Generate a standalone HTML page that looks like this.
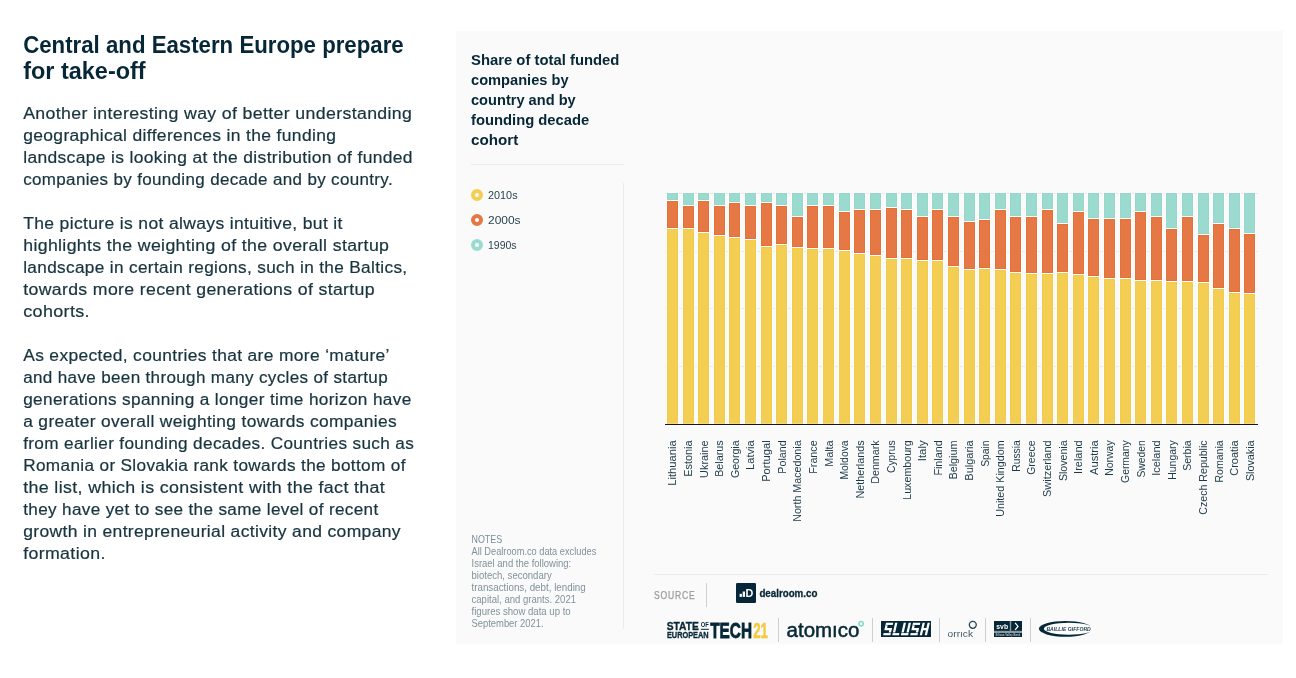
<!DOCTYPE html>
<html><head><meta charset="utf-8"><title>Central and Eastern Europe prepare for take-off</title>
<style>html,body{margin:0;padding:0;background:#fff;}body{width:1296px;height:678px;overflow:hidden;}svg{display:block;will-change:transform;}text{font-family:"Liberation Sans",sans-serif;}</style>
</head><body>
<svg width="1296" height="678" viewBox="0 0 1296 678">
<rect width="1296" height="678" fill="#ffffff"/>
<text x="23.2" y="52.7" font-size="24.7" fill="#062737" font-weight="bold" textLength="380.5" lengthAdjust="spacingAndGlyphs" >Central and Eastern Europe prepare</text>
<text x="23.2" y="78.6" font-size="24.7" fill="#062737" font-weight="bold" textLength="122.5" lengthAdjust="spacingAndGlyphs" >for take-off</text>
<text x="23.2" y="119.0" font-size="17.3" fill="#17343f" textLength="389.1" lengthAdjust="spacingAndGlyphs" letter-spacing="0.35" stroke="#17343f" stroke-width="0.22">Another interesting way of better understanding</text>
<text x="23.2" y="141.0" font-size="17.3" fill="#17343f" textLength="313.1" lengthAdjust="spacingAndGlyphs" letter-spacing="0.35" stroke="#17343f" stroke-width="0.22">geographical differences in the funding</text>
<text x="23.2" y="163.0" font-size="17.3" fill="#17343f" textLength="389.7" lengthAdjust="spacingAndGlyphs" letter-spacing="0.35" stroke="#17343f" stroke-width="0.22">landscape is looking at the distribution of funded</text>
<text x="23.2" y="185.0" font-size="17.3" fill="#17343f" textLength="369.8" lengthAdjust="spacingAndGlyphs" letter-spacing="0.35" stroke="#17343f" stroke-width="0.22">companies by founding decade and by country.</text>
<text x="23.2" y="229.0" font-size="17.3" fill="#17343f" textLength="319.6" lengthAdjust="spacingAndGlyphs" letter-spacing="0.35" stroke="#17343f" stroke-width="0.22">The picture is not always intuitive, but it</text>
<text x="23.2" y="251.0" font-size="17.3" fill="#17343f" textLength="366.1" lengthAdjust="spacingAndGlyphs" letter-spacing="0.35" stroke="#17343f" stroke-width="0.22">highlights the weighting of the overall startup</text>
<text x="23.2" y="273.0" font-size="17.3" fill="#17343f" textLength="384.3" lengthAdjust="spacingAndGlyphs" letter-spacing="0.35" stroke="#17343f" stroke-width="0.22">landscape in certain regions, such in the Baltics,</text>
<text x="23.2" y="295.0" font-size="17.3" fill="#17343f" textLength="351.8" lengthAdjust="spacingAndGlyphs" letter-spacing="0.35" stroke="#17343f" stroke-width="0.22">towards more recent generations of startup</text>
<text x="23.2" y="317.0" font-size="17.3" fill="#17343f" textLength="66.8" lengthAdjust="spacingAndGlyphs" letter-spacing="0.35" stroke="#17343f" stroke-width="0.22">cohorts.</text>
<text x="23.2" y="361.0" font-size="17.3" fill="#17343f" textLength="366.6" lengthAdjust="spacingAndGlyphs" letter-spacing="0.35" stroke="#17343f" stroke-width="0.22">As expected, countries that are more ‘mature’</text>
<text x="23.2" y="383.0" font-size="17.3" fill="#17343f" textLength="364.8" lengthAdjust="spacingAndGlyphs" letter-spacing="0.35" stroke="#17343f" stroke-width="0.22">and have been through many cycles of startup</text>
<text x="23.2" y="405.0" font-size="17.3" fill="#17343f" textLength="388.4" lengthAdjust="spacingAndGlyphs" letter-spacing="0.35" stroke="#17343f" stroke-width="0.22">generations spanning a longer time horizon have</text>
<text x="23.2" y="427.0" font-size="17.3" fill="#17343f" textLength="373.9" lengthAdjust="spacingAndGlyphs" letter-spacing="0.35" stroke="#17343f" stroke-width="0.22">a greater overall weighting towards companies</text>
<text x="23.2" y="449.0" font-size="17.3" fill="#17343f" textLength="390.9" lengthAdjust="spacingAndGlyphs" letter-spacing="0.35" stroke="#17343f" stroke-width="0.22">from earlier founding decades. Countries such as</text>
<text x="23.2" y="471.0" font-size="17.3" fill="#17343f" textLength="382.6" lengthAdjust="spacingAndGlyphs" letter-spacing="0.35" stroke="#17343f" stroke-width="0.22">Romania or Slovakia rank towards the bottom of</text>
<text x="23.2" y="493.0" font-size="17.3" fill="#17343f" textLength="362.0" lengthAdjust="spacingAndGlyphs" letter-spacing="0.35" stroke="#17343f" stroke-width="0.22">the list, which is consistent with the fact that</text>
<text x="23.2" y="515.0" font-size="17.3" fill="#17343f" textLength="355.4" lengthAdjust="spacingAndGlyphs" letter-spacing="0.35" stroke="#17343f" stroke-width="0.22">they have yet to see the same level of recent</text>
<text x="23.2" y="537.0" font-size="17.3" fill="#17343f" textLength="377.7" lengthAdjust="spacingAndGlyphs" letter-spacing="0.35" stroke="#17343f" stroke-width="0.22">growth in entrepreneurial activity and company</text>
<text x="23.2" y="559.0" font-size="17.3" fill="#17343f" textLength="82.5" lengthAdjust="spacingAndGlyphs" letter-spacing="0.35" stroke="#17343f" stroke-width="0.22">formation.</text>
<rect x="456" y="31" width="827" height="613" fill="#fafafa"/>
<text x="471" y="65.2" font-size="15.5" fill="#062737" font-weight="bold" textLength="148.4" lengthAdjust="spacingAndGlyphs" >Share of total funded</text>
<text x="471" y="85.2" font-size="15.5" fill="#062737" font-weight="bold" textLength="97.6" lengthAdjust="spacingAndGlyphs" >companies by</text>
<text x="471" y="105.3" font-size="15.5" fill="#062737" font-weight="bold" textLength="104.7" lengthAdjust="spacingAndGlyphs" >country and by</text>
<text x="471" y="125.4" font-size="15.5" fill="#062737" font-weight="bold" textLength="118.3" lengthAdjust="spacingAndGlyphs" >founding decade</text>
<text x="471" y="145.4" font-size="15.5" fill="#062737" font-weight="bold" textLength="47.3" lengthAdjust="spacingAndGlyphs" >cohort</text>
<rect x="471" y="164" width="153" height="1" fill="#ececec"/>
<rect x="623" y="183" width="1" height="446" fill="#ececec"/>
<circle cx="477" cy="195" r="4" fill="#ffffff" stroke="#f4ce52" stroke-width="4"/>
<text x="488" y="199" font-size="11.2" fill="#2a444f" textLength="29.6" lengthAdjust="spacingAndGlyphs" >2010s</text>
<circle cx="477" cy="220" r="4" fill="#ffffff" stroke="#e57844" stroke-width="4"/>
<text x="488" y="224" font-size="11.2" fill="#2a444f" textLength="32.6" lengthAdjust="spacingAndGlyphs" >2000s</text>
<circle cx="477" cy="245" r="4" fill="#ffffff" stroke="#9bdacf" stroke-width="4"/>
<text x="488" y="249" font-size="11.2" fill="#2a444f" textLength="28.6" lengthAdjust="spacingAndGlyphs" >1990s</text>
<text x="471.5" y="542.8" font-size="10.6" fill="#7a8f98" textLength="30.6" lengthAdjust="spacingAndGlyphs" >NOTES</text>
<text x="471.5" y="554.7" font-size="10.3" fill="#7f929b" textLength="124.8" lengthAdjust="spacingAndGlyphs" >All Dealroom.co data excludes</text>
<text x="471.5" y="566.7" font-size="10.3" fill="#7f929b" textLength="99.69999999999999" lengthAdjust="spacingAndGlyphs" >Israel and the following:</text>
<text x="471.5" y="578.7" font-size="10.3" fill="#7f929b" textLength="80.19999999999999" lengthAdjust="spacingAndGlyphs" >biotech, secondary</text>
<text x="471.5" y="590.7" font-size="10.3" fill="#7f929b" textLength="114.19999999999999" lengthAdjust="spacingAndGlyphs" >transactions, debt, lending</text>
<text x="471.5" y="602.7" font-size="10.3" fill="#7f929b" textLength="104.5" lengthAdjust="spacingAndGlyphs" >capital, and grants. 2021</text>
<text x="471.5" y="614.7" font-size="10.3" fill="#7f929b" textLength="99.19999999999999" lengthAdjust="spacingAndGlyphs" >figures show data up to</text>
<text x="471.5" y="626.7" font-size="10.3" fill="#7f929b" textLength="72.1" lengthAdjust="spacingAndGlyphs" >September 2021.</text>
<rect x="665" y="193" width="593" height="1" fill="#e9e9e9"/>
<rect x="665" y="251" width="593" height="1" fill="#e9e9e9"/>
<rect x="665" y="308" width="593" height="1" fill="#e9e9e9"/>
<rect x="665" y="366" width="593" height="1" fill="#e9e9e9"/>
<rect x="665" y="424" width="593" height="1" fill="#e9e9e9"/>
<g shape-rendering="crispEdges">
<rect x="666" y="192" width="13" height="232" fill="#ffffff"/>
<rect x="667" y="193" width="11" height="7" fill="#94d8cc"/><rect x="668" y="194" width="9" height="5" fill="#9bdacf"/>
<rect x="667" y="201" width="11" height="27" fill="#e37139"/><rect x="668" y="202" width="9" height="25" fill="#e57844"/>
<rect x="667" y="229" width="11" height="195" fill="#f3cc47"/><rect x="668" y="230" width="9" height="193" fill="#f4ce52"/>
<rect x="682" y="192" width="13" height="232" fill="#ffffff"/>
<rect x="683" y="193" width="11" height="12" fill="#94d8cc"/><rect x="684" y="194" width="9" height="10" fill="#9bdacf"/>
<rect x="683" y="206" width="11" height="22" fill="#e37139"/><rect x="684" y="207" width="9" height="20" fill="#e57844"/>
<rect x="683" y="229" width="11" height="195" fill="#f3cc47"/><rect x="684" y="230" width="9" height="193" fill="#f4ce52"/>
<rect x="697" y="192" width="13" height="232" fill="#ffffff"/>
<rect x="698" y="193" width="11" height="7" fill="#94d8cc"/><rect x="699" y="194" width="9" height="5" fill="#9bdacf"/>
<rect x="698" y="201" width="11" height="31" fill="#e37139"/><rect x="699" y="202" width="9" height="29" fill="#e57844"/>
<rect x="698" y="233" width="11" height="191" fill="#f3cc47"/><rect x="699" y="234" width="9" height="189" fill="#f4ce52"/>
<rect x="713" y="192" width="13" height="232" fill="#ffffff"/>
<rect x="714" y="193" width="11" height="12" fill="#94d8cc"/><rect x="715" y="194" width="9" height="10" fill="#9bdacf"/>
<rect x="714" y="206" width="11" height="29" fill="#e37139"/><rect x="715" y="207" width="9" height="27" fill="#e57844"/>
<rect x="714" y="236" width="11" height="188" fill="#f3cc47"/><rect x="715" y="237" width="9" height="186" fill="#f4ce52"/>
<rect x="728" y="192" width="13" height="232" fill="#ffffff"/>
<rect x="729" y="193" width="11" height="9" fill="#94d8cc"/><rect x="730" y="194" width="9" height="7" fill="#9bdacf"/>
<rect x="729" y="203" width="11" height="34" fill="#e37139"/><rect x="730" y="204" width="9" height="32" fill="#e57844"/>
<rect x="729" y="238" width="11" height="186" fill="#f3cc47"/><rect x="730" y="239" width="9" height="184" fill="#f4ce52"/>
<rect x="744" y="192" width="13" height="232" fill="#ffffff"/>
<rect x="745" y="193" width="11" height="12" fill="#94d8cc"/><rect x="746" y="194" width="9" height="10" fill="#9bdacf"/>
<rect x="745" y="206" width="11" height="33" fill="#e37139"/><rect x="746" y="207" width="9" height="31" fill="#e57844"/>
<rect x="745" y="240" width="11" height="184" fill="#f3cc47"/><rect x="746" y="241" width="9" height="182" fill="#f4ce52"/>
<rect x="760" y="192" width="13" height="232" fill="#ffffff"/>
<rect x="761" y="193" width="11" height="9" fill="#94d8cc"/><rect x="762" y="194" width="9" height="7" fill="#9bdacf"/>
<rect x="761" y="203" width="11" height="43" fill="#e37139"/><rect x="762" y="204" width="9" height="41" fill="#e57844"/>
<rect x="761" y="247" width="11" height="177" fill="#f3cc47"/><rect x="762" y="248" width="9" height="175" fill="#f4ce52"/>
<rect x="775" y="192" width="13" height="232" fill="#ffffff"/>
<rect x="776" y="193" width="11" height="12" fill="#94d8cc"/><rect x="777" y="194" width="9" height="10" fill="#9bdacf"/>
<rect x="776" y="206" width="11" height="38" fill="#e37139"/><rect x="777" y="207" width="9" height="36" fill="#e57844"/>
<rect x="776" y="245" width="11" height="179" fill="#f3cc47"/><rect x="777" y="246" width="9" height="177" fill="#f4ce52"/>
<rect x="791" y="192" width="13" height="232" fill="#ffffff"/>
<rect x="792" y="193" width="11" height="23" fill="#94d8cc"/><rect x="793" y="194" width="9" height="21" fill="#9bdacf"/>
<rect x="792" y="217" width="11" height="30" fill="#e37139"/><rect x="793" y="218" width="9" height="28" fill="#e57844"/>
<rect x="792" y="248" width="11" height="176" fill="#f3cc47"/><rect x="793" y="249" width="9" height="174" fill="#f4ce52"/>
<rect x="806" y="192" width="13" height="232" fill="#ffffff"/>
<rect x="807" y="193" width="11" height="12" fill="#94d8cc"/><rect x="808" y="194" width="9" height="10" fill="#9bdacf"/>
<rect x="807" y="206" width="11" height="42" fill="#e37139"/><rect x="808" y="207" width="9" height="40" fill="#e57844"/>
<rect x="807" y="249" width="11" height="175" fill="#f3cc47"/><rect x="808" y="250" width="9" height="173" fill="#f4ce52"/>
<rect x="822" y="192" width="13" height="232" fill="#ffffff"/>
<rect x="823" y="193" width="11" height="12" fill="#94d8cc"/><rect x="824" y="194" width="9" height="10" fill="#9bdacf"/>
<rect x="823" y="206" width="11" height="42" fill="#e37139"/><rect x="824" y="207" width="9" height="40" fill="#e57844"/>
<rect x="823" y="249" width="11" height="175" fill="#f3cc47"/><rect x="824" y="250" width="9" height="173" fill="#f4ce52"/>
<rect x="838" y="192" width="13" height="232" fill="#ffffff"/>
<rect x="839" y="193" width="11" height="18" fill="#94d8cc"/><rect x="840" y="194" width="9" height="16" fill="#9bdacf"/>
<rect x="839" y="212" width="11" height="38" fill="#e37139"/><rect x="840" y="213" width="9" height="36" fill="#e57844"/>
<rect x="839" y="251" width="11" height="173" fill="#f3cc47"/><rect x="840" y="252" width="9" height="171" fill="#f4ce52"/>
<rect x="853" y="192" width="13" height="232" fill="#ffffff"/>
<rect x="854" y="193" width="11" height="16" fill="#94d8cc"/><rect x="855" y="194" width="9" height="14" fill="#9bdacf"/>
<rect x="854" y="210" width="11" height="43" fill="#e37139"/><rect x="855" y="211" width="9" height="41" fill="#e57844"/>
<rect x="854" y="254" width="11" height="170" fill="#f3cc47"/><rect x="855" y="255" width="9" height="168" fill="#f4ce52"/>
<rect x="869" y="192" width="13" height="232" fill="#ffffff"/>
<rect x="870" y="193" width="11" height="16" fill="#94d8cc"/><rect x="871" y="194" width="9" height="14" fill="#9bdacf"/>
<rect x="870" y="210" width="11" height="45" fill="#e37139"/><rect x="871" y="211" width="9" height="43" fill="#e57844"/>
<rect x="870" y="256" width="11" height="168" fill="#f3cc47"/><rect x="871" y="257" width="9" height="166" fill="#f4ce52"/>
<rect x="885" y="192" width="13" height="232" fill="#ffffff"/>
<rect x="886" y="193" width="11" height="14" fill="#94d8cc"/><rect x="887" y="194" width="9" height="12" fill="#9bdacf"/>
<rect x="886" y="208" width="11" height="50" fill="#e37139"/><rect x="887" y="209" width="9" height="48" fill="#e57844"/>
<rect x="886" y="259" width="11" height="165" fill="#f3cc47"/><rect x="887" y="260" width="9" height="163" fill="#f4ce52"/>
<rect x="900" y="192" width="13" height="232" fill="#ffffff"/>
<rect x="901" y="193" width="11" height="16" fill="#94d8cc"/><rect x="902" y="194" width="9" height="14" fill="#9bdacf"/>
<rect x="901" y="210" width="11" height="48" fill="#e37139"/><rect x="902" y="211" width="9" height="46" fill="#e57844"/>
<rect x="901" y="259" width="11" height="165" fill="#f3cc47"/><rect x="902" y="260" width="9" height="163" fill="#f4ce52"/>
<rect x="916" y="192" width="13" height="232" fill="#ffffff"/>
<rect x="917" y="193" width="11" height="23" fill="#94d8cc"/><rect x="918" y="194" width="9" height="21" fill="#9bdacf"/>
<rect x="917" y="217" width="11" height="43" fill="#e37139"/><rect x="918" y="218" width="9" height="41" fill="#e57844"/>
<rect x="917" y="261" width="11" height="163" fill="#f3cc47"/><rect x="918" y="262" width="9" height="161" fill="#f4ce52"/>
<rect x="931" y="192" width="13" height="232" fill="#ffffff"/>
<rect x="932" y="193" width="11" height="16" fill="#94d8cc"/><rect x="933" y="194" width="9" height="14" fill="#9bdacf"/>
<rect x="932" y="210" width="11" height="50" fill="#e37139"/><rect x="933" y="211" width="9" height="48" fill="#e57844"/>
<rect x="932" y="261" width="11" height="163" fill="#f3cc47"/><rect x="933" y="262" width="9" height="161" fill="#f4ce52"/>
<rect x="947" y="192" width="13" height="232" fill="#ffffff"/>
<rect x="948" y="193" width="11" height="23" fill="#94d8cc"/><rect x="949" y="194" width="9" height="21" fill="#9bdacf"/>
<rect x="948" y="217" width="11" height="49" fill="#e37139"/><rect x="949" y="218" width="9" height="47" fill="#e57844"/>
<rect x="948" y="267" width="11" height="157" fill="#f3cc47"/><rect x="949" y="268" width="9" height="155" fill="#f4ce52"/>
<rect x="963" y="192" width="13" height="232" fill="#ffffff"/>
<rect x="964" y="193" width="11" height="28" fill="#94d8cc"/><rect x="965" y="194" width="9" height="26" fill="#9bdacf"/>
<rect x="964" y="222" width="11" height="47" fill="#e37139"/><rect x="965" y="223" width="9" height="45" fill="#e57844"/>
<rect x="964" y="270" width="11" height="154" fill="#f3cc47"/><rect x="965" y="271" width="9" height="152" fill="#f4ce52"/>
<rect x="978" y="192" width="13" height="232" fill="#ffffff"/>
<rect x="979" y="193" width="11" height="26" fill="#94d8cc"/><rect x="980" y="194" width="9" height="24" fill="#9bdacf"/>
<rect x="979" y="220" width="11" height="48" fill="#e37139"/><rect x="980" y="221" width="9" height="46" fill="#e57844"/>
<rect x="979" y="269" width="11" height="155" fill="#f3cc47"/><rect x="980" y="270" width="9" height="153" fill="#f4ce52"/>
<rect x="994" y="192" width="13" height="232" fill="#ffffff"/>
<rect x="995" y="193" width="11" height="16" fill="#94d8cc"/><rect x="996" y="194" width="9" height="14" fill="#9bdacf"/>
<rect x="995" y="210" width="11" height="59" fill="#e37139"/><rect x="996" y="211" width="9" height="57" fill="#e57844"/>
<rect x="995" y="270" width="11" height="154" fill="#f3cc47"/><rect x="996" y="271" width="9" height="152" fill="#f4ce52"/>
<rect x="1009" y="192" width="13" height="232" fill="#ffffff"/>
<rect x="1010" y="193" width="11" height="23" fill="#94d8cc"/><rect x="1011" y="194" width="9" height="21" fill="#9bdacf"/>
<rect x="1010" y="217" width="11" height="55" fill="#e37139"/><rect x="1011" y="218" width="9" height="53" fill="#e57844"/>
<rect x="1010" y="273" width="11" height="151" fill="#f3cc47"/><rect x="1011" y="274" width="9" height="149" fill="#f4ce52"/>
<rect x="1025" y="192" width="13" height="232" fill="#ffffff"/>
<rect x="1026" y="193" width="11" height="23" fill="#94d8cc"/><rect x="1027" y="194" width="9" height="21" fill="#9bdacf"/>
<rect x="1026" y="217" width="11" height="56" fill="#e37139"/><rect x="1027" y="218" width="9" height="54" fill="#e57844"/>
<rect x="1026" y="274" width="11" height="150" fill="#f3cc47"/><rect x="1027" y="275" width="9" height="148" fill="#f4ce52"/>
<rect x="1041" y="192" width="13" height="232" fill="#ffffff"/>
<rect x="1042" y="193" width="11" height="16" fill="#94d8cc"/><rect x="1043" y="194" width="9" height="14" fill="#9bdacf"/>
<rect x="1042" y="210" width="11" height="63" fill="#e37139"/><rect x="1043" y="211" width="9" height="61" fill="#e57844"/>
<rect x="1042" y="274" width="11" height="150" fill="#f3cc47"/><rect x="1043" y="275" width="9" height="148" fill="#f4ce52"/>
<rect x="1056" y="192" width="13" height="232" fill="#ffffff"/>
<rect x="1057" y="193" width="11" height="30" fill="#94d8cc"/><rect x="1058" y="194" width="9" height="28" fill="#9bdacf"/>
<rect x="1057" y="224" width="11" height="48" fill="#e37139"/><rect x="1058" y="225" width="9" height="46" fill="#e57844"/>
<rect x="1057" y="273" width="11" height="151" fill="#f3cc47"/><rect x="1058" y="274" width="9" height="149" fill="#f4ce52"/>
<rect x="1072" y="192" width="13" height="232" fill="#ffffff"/>
<rect x="1073" y="193" width="11" height="18" fill="#94d8cc"/><rect x="1074" y="194" width="9" height="16" fill="#9bdacf"/>
<rect x="1073" y="212" width="11" height="62" fill="#e37139"/><rect x="1074" y="213" width="9" height="60" fill="#e57844"/>
<rect x="1073" y="275" width="11" height="149" fill="#f3cc47"/><rect x="1074" y="276" width="9" height="147" fill="#f4ce52"/>
<rect x="1087" y="192" width="13" height="232" fill="#ffffff"/>
<rect x="1088" y="193" width="11" height="25" fill="#94d8cc"/><rect x="1089" y="194" width="9" height="23" fill="#9bdacf"/>
<rect x="1088" y="219" width="11" height="57" fill="#e37139"/><rect x="1089" y="220" width="9" height="55" fill="#e57844"/>
<rect x="1088" y="277" width="11" height="147" fill="#f3cc47"/><rect x="1089" y="278" width="9" height="145" fill="#f4ce52"/>
<rect x="1103" y="192" width="13" height="232" fill="#ffffff"/>
<rect x="1104" y="193" width="11" height="25" fill="#94d8cc"/><rect x="1105" y="194" width="9" height="23" fill="#9bdacf"/>
<rect x="1104" y="219" width="11" height="59" fill="#e37139"/><rect x="1105" y="220" width="9" height="57" fill="#e57844"/>
<rect x="1104" y="279" width="11" height="145" fill="#f3cc47"/><rect x="1105" y="280" width="9" height="143" fill="#f4ce52"/>
<rect x="1119" y="192" width="13" height="232" fill="#ffffff"/>
<rect x="1120" y="193" width="11" height="25" fill="#94d8cc"/><rect x="1121" y="194" width="9" height="23" fill="#9bdacf"/>
<rect x="1120" y="219" width="11" height="59" fill="#e37139"/><rect x="1121" y="220" width="9" height="57" fill="#e57844"/>
<rect x="1120" y="279" width="11" height="145" fill="#f3cc47"/><rect x="1121" y="280" width="9" height="143" fill="#f4ce52"/>
<rect x="1134" y="192" width="13" height="232" fill="#ffffff"/>
<rect x="1135" y="193" width="11" height="18" fill="#94d8cc"/><rect x="1136" y="194" width="9" height="16" fill="#9bdacf"/>
<rect x="1135" y="212" width="11" height="68" fill="#e37139"/><rect x="1136" y="213" width="9" height="66" fill="#e57844"/>
<rect x="1135" y="281" width="11" height="143" fill="#f3cc47"/><rect x="1136" y="282" width="9" height="141" fill="#f4ce52"/>
<rect x="1150" y="192" width="13" height="232" fill="#ffffff"/>
<rect x="1151" y="193" width="11" height="23" fill="#94d8cc"/><rect x="1152" y="194" width="9" height="21" fill="#9bdacf"/>
<rect x="1151" y="217" width="11" height="63" fill="#e37139"/><rect x="1152" y="218" width="9" height="61" fill="#e57844"/>
<rect x="1151" y="281" width="11" height="143" fill="#f3cc47"/><rect x="1152" y="282" width="9" height="141" fill="#f4ce52"/>
<rect x="1165" y="192" width="13" height="232" fill="#ffffff"/>
<rect x="1166" y="193" width="11" height="35" fill="#94d8cc"/><rect x="1167" y="194" width="9" height="33" fill="#9bdacf"/>
<rect x="1166" y="229" width="11" height="52" fill="#e37139"/><rect x="1167" y="230" width="9" height="50" fill="#e57844"/>
<rect x="1166" y="282" width="11" height="142" fill="#f3cc47"/><rect x="1167" y="283" width="9" height="140" fill="#f4ce52"/>
<rect x="1181" y="192" width="13" height="232" fill="#ffffff"/>
<rect x="1182" y="193" width="11" height="23" fill="#94d8cc"/><rect x="1183" y="194" width="9" height="21" fill="#9bdacf"/>
<rect x="1182" y="217" width="11" height="64" fill="#e37139"/><rect x="1183" y="218" width="9" height="62" fill="#e57844"/>
<rect x="1182" y="282" width="11" height="142" fill="#f3cc47"/><rect x="1183" y="283" width="9" height="140" fill="#f4ce52"/>
<rect x="1197" y="192" width="13" height="232" fill="#ffffff"/>
<rect x="1198" y="193" width="11" height="41" fill="#94d8cc"/><rect x="1199" y="194" width="9" height="39" fill="#9bdacf"/>
<rect x="1198" y="235" width="11" height="47" fill="#e37139"/><rect x="1199" y="236" width="9" height="45" fill="#e57844"/>
<rect x="1198" y="283" width="11" height="141" fill="#f3cc47"/><rect x="1199" y="284" width="9" height="139" fill="#f4ce52"/>
<rect x="1212" y="192" width="13" height="232" fill="#ffffff"/>
<rect x="1213" y="193" width="11" height="30" fill="#94d8cc"/><rect x="1214" y="194" width="9" height="28" fill="#9bdacf"/>
<rect x="1213" y="224" width="11" height="64" fill="#e37139"/><rect x="1214" y="225" width="9" height="62" fill="#e57844"/>
<rect x="1213" y="289" width="11" height="135" fill="#f3cc47"/><rect x="1214" y="290" width="9" height="133" fill="#f4ce52"/>
<rect x="1228" y="192" width="13" height="232" fill="#ffffff"/>
<rect x="1229" y="193" width="11" height="35" fill="#94d8cc"/><rect x="1230" y="194" width="9" height="33" fill="#9bdacf"/>
<rect x="1229" y="229" width="11" height="63" fill="#e37139"/><rect x="1230" y="230" width="9" height="61" fill="#e57844"/>
<rect x="1229" y="293" width="11" height="131" fill="#f3cc47"/><rect x="1230" y="294" width="9" height="129" fill="#f4ce52"/>
<rect x="1243" y="192" width="13" height="232" fill="#ffffff"/>
<rect x="1244" y="193" width="11" height="40" fill="#94d8cc"/><rect x="1245" y="194" width="9" height="38" fill="#9bdacf"/>
<rect x="1244" y="234" width="11" height="59" fill="#e37139"/><rect x="1245" y="235" width="9" height="57" fill="#e57844"/>
<rect x="1244" y="294" width="11" height="130" fill="#f3cc47"/><rect x="1245" y="295" width="9" height="128" fill="#f4ce52"/>
<rect x="664" y="423" width="595" height="1" fill="#ffffff" fill-opacity="0.3"/><rect x="664" y="425" width="595" height="1" fill="#ffffff"/><rect x="664" y="424" width="1" height="1" fill="#ffffff"/><rect x="665" y="424" width="593" height="1" fill="#16161c"/>
</g>
<text transform="translate(676.2,440.4) rotate(-90)" text-anchor="end" font-size="11" fill="#1c3947" textLength="45.4" lengthAdjust="spacingAndGlyphs">Lithuania</text>
<text transform="translate(692.2,440.4) rotate(-90)" text-anchor="end" font-size="11" fill="#1c3947" textLength="36.4" lengthAdjust="spacingAndGlyphs">Estonia</text>
<text transform="translate(708.2,440.4) rotate(-90)" text-anchor="end" font-size="11" fill="#1c3947" textLength="37.5" lengthAdjust="spacingAndGlyphs">Ukraine</text>
<text transform="translate(723.2,440.4) rotate(-90)" text-anchor="end" font-size="11" fill="#1c3947" textLength="36.4" lengthAdjust="spacingAndGlyphs">Belarus</text>
<text transform="translate(739.2,440.4) rotate(-90)" text-anchor="end" font-size="11" fill="#1c3947" textLength="37.699999999999996" lengthAdjust="spacingAndGlyphs">Georgia</text>
<text transform="translate(754.2,440.4) rotate(-90)" text-anchor="end" font-size="11" fill="#1c3947" textLength="29.5" lengthAdjust="spacingAndGlyphs">Latvia</text>
<text transform="translate(770.2,440.4) rotate(-90)" text-anchor="end" font-size="11" fill="#1c3947" textLength="41.4" lengthAdjust="spacingAndGlyphs">Portugal</text>
<text transform="translate(786.2,440.4) rotate(-90)" text-anchor="end" font-size="11" fill="#1c3947" textLength="33.3" lengthAdjust="spacingAndGlyphs">Poland</text>
<text transform="translate(801.2,440.4) rotate(-90)" text-anchor="end" font-size="11" fill="#1c3947" textLength="81.39999999999999" lengthAdjust="spacingAndGlyphs">North Macedonia</text>
<text transform="translate(817.2,440.4) rotate(-90)" text-anchor="end" font-size="11" fill="#1c3947" textLength="33.3" lengthAdjust="spacingAndGlyphs">France</text>
<text transform="translate(833.2,440.4) rotate(-90)" text-anchor="end" font-size="11" fill="#1c3947" textLength="26.400000000000002" lengthAdjust="spacingAndGlyphs">Malta</text>
<text transform="translate(848.2,440.4) rotate(-90)" text-anchor="end" font-size="11" fill="#1c3947" textLength="39.199999999999996" lengthAdjust="spacingAndGlyphs">Moldova</text>
<text transform="translate(864.2,440.4) rotate(-90)" text-anchor="end" font-size="11" fill="#1c3947" textLength="58.099999999999994" lengthAdjust="spacingAndGlyphs">Netherlands</text>
<text transform="translate(879.2,440.4) rotate(-90)" text-anchor="end" font-size="11" fill="#1c3947" textLength="43.4" lengthAdjust="spacingAndGlyphs">Denmark</text>
<text transform="translate(895.2,440.4) rotate(-90)" text-anchor="end" font-size="11" fill="#1c3947" textLength="32.6" lengthAdjust="spacingAndGlyphs">Cyprus</text>
<text transform="translate(911.2,440.4) rotate(-90)" text-anchor="end" font-size="11" fill="#1c3947" textLength="59.4" lengthAdjust="spacingAndGlyphs">Luxembourg</text>
<text transform="translate(926.2,440.4) rotate(-90)" text-anchor="end" font-size="11" fill="#1c3947" textLength="20.8" lengthAdjust="spacingAndGlyphs">Italy</text>
<text transform="translate(942.2,440.4) rotate(-90)" text-anchor="end" font-size="11" fill="#1c3947" textLength="35.199999999999996" lengthAdjust="spacingAndGlyphs">Finland</text>
<text transform="translate(957.2,440.4) rotate(-90)" text-anchor="end" font-size="11" fill="#1c3947" textLength="39.199999999999996" lengthAdjust="spacingAndGlyphs">Belgium</text>
<text transform="translate(973.2,440.4) rotate(-90)" text-anchor="end" font-size="11" fill="#1c3947" textLength="40.3" lengthAdjust="spacingAndGlyphs">Bulgaria</text>
<text transform="translate(989.2,440.4) rotate(-90)" text-anchor="end" font-size="11" fill="#1c3947" textLength="26.400000000000002" lengthAdjust="spacingAndGlyphs">Spain</text>
<text transform="translate(1004.2,440.4) rotate(-90)" text-anchor="end" font-size="11" fill="#1c3947" textLength="76.39999999999999" lengthAdjust="spacingAndGlyphs">United Kingdom</text>
<text transform="translate(1020.2,440.4) rotate(-90)" text-anchor="end" font-size="11" fill="#1c3947" textLength="31.3" lengthAdjust="spacingAndGlyphs">Russia</text>
<text transform="translate(1035.2,440.4) rotate(-90)" text-anchor="end" font-size="11" fill="#1c3947" textLength="34.4" lengthAdjust="spacingAndGlyphs">Greece</text>
<text transform="translate(1051.2,440.4) rotate(-90)" text-anchor="end" font-size="11" fill="#1c3947" textLength="56.599999999999994" lengthAdjust="spacingAndGlyphs">Switzerland</text>
<text transform="translate(1067.2,440.4) rotate(-90)" text-anchor="end" font-size="11" fill="#1c3947" textLength="40.699999999999996" lengthAdjust="spacingAndGlyphs">Slovenia</text>
<text transform="translate(1082.2,440.4) rotate(-90)" text-anchor="end" font-size="11" fill="#1c3947" textLength="33.5" lengthAdjust="spacingAndGlyphs">Ireland</text>
<text transform="translate(1098.2,440.4) rotate(-90)" text-anchor="end" font-size="11" fill="#1c3947" textLength="34.5" lengthAdjust="spacingAndGlyphs">Austria</text>
<text transform="translate(1113.2,440.4) rotate(-90)" text-anchor="end" font-size="11" fill="#1c3947" textLength="35.4" lengthAdjust="spacingAndGlyphs">Norway</text>
<text transform="translate(1129.2,440.4) rotate(-90)" text-anchor="end" font-size="11" fill="#1c3947" textLength="42.5" lengthAdjust="spacingAndGlyphs">Germany</text>
<text transform="translate(1145.2,440.4) rotate(-90)" text-anchor="end" font-size="11" fill="#1c3947" textLength="37.199999999999996" lengthAdjust="spacingAndGlyphs">Sweden</text>
<text transform="translate(1160.2,440.4) rotate(-90)" text-anchor="end" font-size="11" fill="#1c3947" textLength="35.4" lengthAdjust="spacingAndGlyphs">Iceland</text>
<text transform="translate(1176.2,440.4) rotate(-90)" text-anchor="end" font-size="11" fill="#1c3947" textLength="39.3" lengthAdjust="spacingAndGlyphs">Hungary</text>
<text transform="translate(1191.2,440.4) rotate(-90)" text-anchor="end" font-size="11" fill="#1c3947" textLength="30.400000000000002" lengthAdjust="spacingAndGlyphs">Serbia</text>
<text transform="translate(1207.2,440.4) rotate(-90)" text-anchor="end" font-size="11" fill="#1c3947" textLength="74.3" lengthAdjust="spacingAndGlyphs">Czech Republic</text>
<text transform="translate(1223.2,440.4) rotate(-90)" text-anchor="end" font-size="11" fill="#1c3947" textLength="42.099999999999994" lengthAdjust="spacingAndGlyphs">Romania</text>
<text transform="translate(1238.2,440.4) rotate(-90)" text-anchor="end" font-size="11" fill="#1c3947" textLength="35.4" lengthAdjust="spacingAndGlyphs">Croatia</text>
<text transform="translate(1254.2,440.4) rotate(-90)" text-anchor="end" font-size="11" fill="#1c3947" textLength="40.699999999999996" lengthAdjust="spacingAndGlyphs">Slovakia</text>
<rect x="654" y="574" width="614" height="1" fill="#ececec"/>
<text x="654" y="598.7" font-size="10.6" fill="#9b9b9b" textLength="41.5" lengthAdjust="spacingAndGlyphs" letter-spacing="1" stroke="#9b9b9b" stroke-width="0.25">SOURCE</text>
<rect x="706" y="583" width="1" height="24" fill="#d0d0d0"/>
<rect x="736" y="583" width="20" height="20" rx="1.2" fill="#062737"/>
<rect x="739.6" y="593.8" width="2.3" height="3.1" fill="#fff"/><rect x="742.7" y="591.5" width="2.3" height="5.4" fill="#fff"/>
<text x="745.4" y="596.9" font-size="10.8" font-weight="bold" fill="#fff" textLength="7.8" lengthAdjust="spacingAndGlyphs">D</text>
<text x="759.4" y="596.9" font-size="10.3" fill="#062737" font-weight="bold" textLength="58.0" lengthAdjust="spacingAndGlyphs" stroke="#062737" stroke-width="0.3">dealroom.co</text>
<rect x="778" y="618" width="1" height="24" fill="#cfcfcf"/>
<rect x="872" y="618" width="1" height="24" fill="#cfcfcf"/>
<rect x="939" y="618" width="1" height="24" fill="#cfcfcf"/>
<rect x="985" y="618" width="1" height="24" fill="#cfcfcf"/>
<rect x="1030" y="618" width="1" height="24" fill="#cfcfcf"/>
<text x="666.8" y="630.1" font-size="11.8" fill="#062737" font-weight="bold" textLength="32.0" lengthAdjust="spacingAndGlyphs" stroke="#062737" stroke-width="0.35">STATE</text>
<text x="700.8" y="626.8" font-size="6.6" fill="#062737" font-weight="bold" textLength="8.0" lengthAdjust="spacingAndGlyphs" >OF</text>
<rect x="700.8" y="628.8" width="8" height="1" fill="#062737"/>
<text x="666.9" y="637.9" font-size="8.4" fill="#062737" font-weight="bold" textLength="41.8" lengthAdjust="spacingAndGlyphs" stroke="#062737" stroke-width="0.3">EUROPEAN</text>
<text x="710.2" y="637.9" font-size="21.4" fill="#062737" font-weight="bold" textLength="41.8" lengthAdjust="spacingAndGlyphs" stroke="#062737" stroke-width="0.8">TECH</text>
<text x="753.2" y="637.9" font-size="22.2" fill="#f3ca40" font-weight="bold" textLength="14.8" lengthAdjust="spacingAndGlyphs" stroke="#f3ca40" stroke-width="0.6">21</text>
<text x="786.6" y="636.5" font-size="19.6" fill="#062737" textLength="72.8" lengthAdjust="spacingAndGlyphs" stroke="#062737" stroke-width="0.5">atomıco</text>
<circle cx="861.1" cy="623.7" r="2.15" fill="none" stroke="#8ad8cb" stroke-width="1.55"/>
<rect x="880" y="620" width="52" height="18" fill="#ffffff"/>
<rect x="881" y="621" width="50" height="16" fill="#062737"/>
<path transform="translate(883.1,635.3) skewX(-13)" fill="#ffffff" d="M0.00 -12.50h7.30v2.30h-7.30zM0.00 -12.50h2.30v7.40h-2.30zM0.00 -7.40h7.30v2.30h-7.30zM5.00 -7.40h2.30v7.40h-2.30zM0.00 -2.30h7.30v2.30h-7.30zM9.15 -12.50h2.30v12.50h-2.30zM9.15 -2.30h6.70v2.30h-6.70zM17.70 -12.50h2.30v12.50h-2.30zM22.70 -12.50h2.30v12.50h-2.30zM17.70 -2.30h7.30v2.30h-7.30zM27.05 -12.50h7.30v2.30h-7.30zM27.05 -12.50h2.30v7.40h-2.30zM27.05 -7.40h7.30v2.30h-7.30zM32.05 -7.40h2.30v7.40h-2.30zM27.05 -2.30h7.30v2.30h-7.30zM36.60 -12.50h2.30v12.50h-2.30zM41.60 -12.50h2.30v12.50h-2.30zM36.60 -7.40h7.30v2.30h-7.30z"/>
<rect x="882" y="632.4" width="38" height="0.7" fill="#062737" opacity="0.85"/>
<rect x="886" y="624.9" width="8" height="0.6" fill="#062737" opacity="0.7"/><rect x="913" y="624.9" width="8" height="0.6" fill="#062737" opacity="0.7"/>
<text x="947.6" y="636.6" font-size="9.5" fill="#3f5966" textLength="25.4" lengthAdjust="spacingAndGlyphs" >orrıck</text>
<circle cx="972.8" cy="624.85" r="3.45" fill="none" stroke="#27434f" stroke-width="1.35"/>
<rect x="993" y="620" width="30" height="18" fill="#ffffff"/>
<rect x="994" y="621" width="28" height="16" fill="#8c999f"/>
<rect x="994" y="621" width="15.8" height="9.8" fill="#062737"/><rect x="1011.2" y="621" width="10.8" height="9.8" fill="#062737"/><rect x="994" y="633" width="28" height="4" fill="#062737"/>
<text x="996.3" y="628.9" font-size="7.6" font-weight="bold" fill="#fff" textLength="11.8" lengthAdjust="spacingAndGlyphs">svb</text>
<path d="M1015.1 622.9 L1018 626.4 L1015.1 629.9" fill="none" stroke="#fff" stroke-width="1.25"/>
<text x="995.6" y="636.1" font-size="3.2" font-weight="bold" fill="#b9c3c8" textLength="24.6" lengthAdjust="spacingAndGlyphs">Silicon Valley Bank</text>
<ellipse cx="1065.4" cy="628.85" rx="26.5" ry="7.9" fill="#062737"/>
<ellipse cx="1068.8" cy="628.75" rx="24.9" ry="5.9" fill="#ffffff"/>
<text x="1046.4" y="630.6" font-size="4.5" font-weight="bold" font-style="italic" fill="#062737" fill-opacity="0.9" textLength="44.4" lengthAdjust="spacingAndGlyphs">BAILLIE GIFFORD</text>
</svg></body></html>
